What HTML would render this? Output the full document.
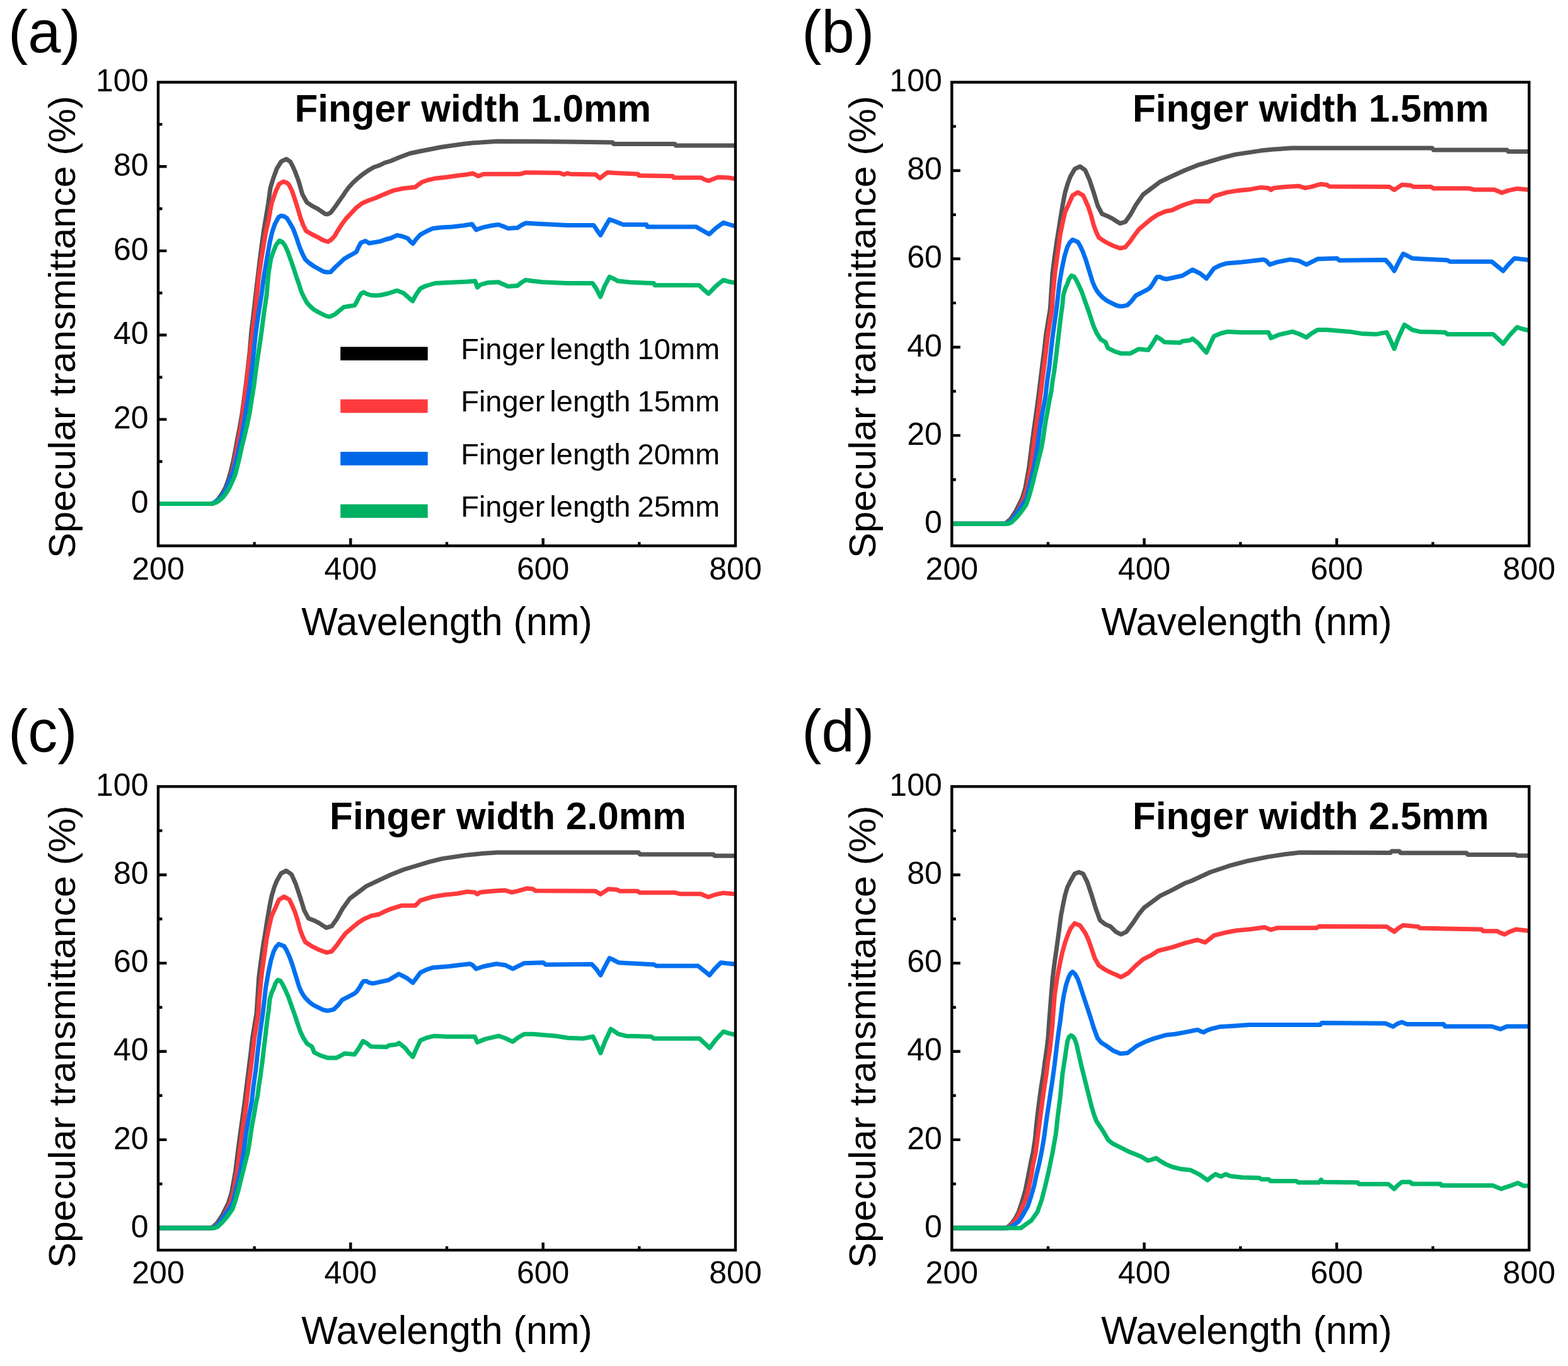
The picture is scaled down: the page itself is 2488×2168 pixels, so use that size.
<!DOCTYPE html><html><head><meta charset="utf-8"><title>Specular transmittance</title>
<style>html,body{margin:0;padding:0;background:#fff;}svg{display:block;}text{font-family:'Liberation Sans', Arial, Helvetica, sans-serif;fill:#000;}</style></head><body>
<svg xmlns="http://www.w3.org/2000/svg" width="2488" height="2168" viewBox="0 0 2488 2168">
<rect width="2488" height="2168" fill="#fff"/>
<g>
<path d="M556.3 866.3 V854.3 M861.7 866.3 V854.3 M403.7 866.3 V860.3 M709 866.3 V860.3 M1014.3 866.3 V860.3 M251 799.4 H264.5 M251 665.6 H264.5 M251 531.8 H264.5 M251 398.1 H264.5 M251 264.3 H264.5 M251 732.5 H257.5 M251 598.7 H257.5 M251 465 H257.5 M251 331.2 H257.5 M251 197.4 H257.5" stroke="#000" stroke-width="4.4" fill="none"/>
<clipPath id="clipa"><rect x="251" y="120.5" width="916" height="745.8"/></clipPath>
<g clip-path="url(#clipa)" fill="none" stroke-width="7" stroke-linejoin="round" stroke-linecap="butt">
<path d="M251 799.5 L336.9 799.5 L341.2 797 L346.5 792 L352.7 783 L357.7 774 L362.1 762 L366.2 748 L370 732 L373.2 716 L376.6 697 L380.6 677 L384.3 655 L387.4 632 L390.5 608 L393.6 582 L396.4 556 L398.8 526.7 L402.3 498 L405.6 468.7 L409 440 L412.5 410.6 L415.5 388 L418.3 367.1 L422 345 L425.6 323.5 L429 298.2 L434 282 L439.2 267.7 L446.4 256.1 L454.4 252.5 L460.9 256.8 L464.5 264 L468.2 272.1 L474 288 L479.8 308.4 L484 316 L487.1 321.4 L495.8 327.2 L504.5 331.6 L510 335.5 L516.1 339.6 L520 340 L524.8 337.4 L529 332 L533.5 325.8 L538.5 318.5 L543.7 311.3 L548.5 304 L553.8 296.8 L560 290 L566.9 283.7 L575 277 L584.3 270.6 L593 265.5 L603.2 262 L610 258.5 L620 255.5 L633 250 L650.2 243.5 L667 240 L683.7 236.8 L700 233.5 L717.2 231 L735 228.5 L750.7 226.8 L770 225.5 L789.2 224.3 L850 224.5 L900 225.1 L972.1 226 L973.8 228.5 L1070.9 228.5 L1072.5 231 L1170 231" stroke="#555555"/>
<path d="M251 799.5 L337.5 799.5 L341.9 797 L348.2 792 L354.3 784 L360.3 772 L364.8 760 L369.8 745 L373.6 725 L378.2 700 L382.9 675 L386.5 645.7 L389.6 620 L393.1 590 L397 560 L401.1 526.7 L404.7 498 L407.6 468.7 L410.5 440 L414.8 410.6 L418.5 388 L422.1 367.1 L426.1 350 L430.8 323.5 L437.7 303 L443 292 L449.7 288.2 L455 290 L458 292.4 L463 302 L468.2 317.1 L472.5 331 L476.9 346.1 L481 357 L485.6 366.4 L494.3 371.5 L504.5 376.6 L512 381 L520.4 383.8 L526 380 L530.6 375.1 L536 366 L542.2 356.3 L549 347 L556.7 338.8 L565 330 L574.1 322.9 L585 318 L595.9 314.2 L608 309 L620 304 L625.1 302.1 L640 299 L658.6 297.1 L664 293 L670.3 288.7 L680 285.5 L692.1 282.9 L710 281 L725.6 278.7 L740 277 L750.7 275.3 L755 277.5 L759 279.5 L763 278 L767.4 276.2 L826 276.2 L834.4 273.7 L888 274.5 L894.7 277 L900 275 L905.1 276.2 L945.3 277 L948.5 280 L952 282.9 L958 278 L963.7 273.7 L975.4 274.5 L1012.3 276.2 L1014 278.7 L1067.5 279.5 L1069.2 282 L1112.7 282 L1118 285 L1124.4 287.1 L1132 284 L1139.5 281.2 L1156.2 282 L1170 284.5" stroke="#ff3a3c"/>
<path d="M251 799.5 L336.3 799.5 L341.3 797 L347.3 793 L353 786 L358.5 777 L363.6 764 L369.6 750 L374.1 733 L378.5 715 L384 690 L390.6 650 L395.3 620 L400.5 580 L405.4 532 L409.8 500 L414.8 468.7 L418.5 440 L423.5 410.6 L428 385 L431.9 367.9 L436 356 L442.1 344.6 L446 342.4 L451 343.5 L455.1 346.1 L460 354 L465.3 363.5 L470 376 L475.5 392.5 L480 403 L484.2 411.4 L490 417 L498.7 423 L506 427 L513.2 431 L519 432 L524.8 431.7 L532 424 L539.3 417.2 L546 411 L553.8 406.3 L560 403 L565.4 399.8 L569 392 L572.7 385.3 L579.9 382.4 L585.8 386 L595 384.5 L603.2 383.1 L612 380 L620 378 L630.1 373.3 L638 375 L646.9 378.3 L651 383 L655.2 386.7 L660 380 L667 372.4 L677 367 L687.1 362.4 L700 361 L717.2 359.9 L735 358 L749 355.7 L752 360 L755.7 364.9 L760 363 L767.4 360.7 L780 358 L790.9 356.5 L798 359 L805.9 362.4 L821 361.6 L828 357 L834.4 354 L849.5 354.9 L900 357.4 L941.9 357.4 L947 365 L952.8 373.3 L959 362 L967.1 348.2 L975 351 L980.5 353.2 L988.8 356.5 L1025.7 356.5 L1027.3 359.9 L1104.3 359.9 L1115 366 L1125.3 371.6 L1136 362 L1147.9 353.2 L1156 356 L1170 359.9" stroke="#0070f0"/>
<path d="M251 799.5 L336.8 799.5 L342.8 797.5 L348.6 794 L353.7 789.3 L358.9 782.5 L363.7 774.6 L368.6 764 L373.5 752.5 L376.7 740 L380.3 724.9 L384 708 L388.1 691.7 L392.4 673 L396.1 654.9 L399.6 633 L403.4 608.9 L406 588 L408.8 568.4 L411.6 550 L414.3 531.6 L418.8 497 L423 468.7 L426.1 433.2 L430 410 L434.8 396.9 L438 389 L443.1 382 L448 384 L452.2 389.6 L456.5 399 L460.9 411.4 L465 423 L469.7 437.5 L474 450 L478.4 463.6 L481.9 471 L486.5 479.6 L492 486 L497.9 491.2 L504.4 495 L510.2 498 L516.1 501 L521.8 502.6 L526 501.5 L531.5 498.8 L538.6 493 L545.5 487.4 L554 486 L562.8 484.6 L566.5 478 L569.2 472.3 L573 466 L576.9 463.7 L582 466.5 L588.3 468.5 L596 469 L603.5 468.5 L615 466 L630.1 461.2 L640 465 L646.9 471 L654.7 477.9 L660 468 L667 457.8 L675 454 L682 452 L690.4 449.5 L710 448.5 L742.3 446.9 L754 446.1 L757.4 456.2 L762 452 L774.1 448.6 L790.9 447.8 L798 451 L805.9 454.5 L821 453.6 L828 448 L834.4 444.4 L845 446 L861.2 447.8 L900 449.5 L940.3 449.5 L946 458 L952.7 471.2 L959 455 L967.1 439.4 L975 443 L980.5 446.1 L1000 448 L1037.4 449.5 L1039 452.8 L1109.4 452.8 L1117 460 L1124.4 466.2 L1136 454 L1147.9 444.4 L1156 447 L1170 449.5" stroke="#00b86a"/>
</g>
<rect x="251" y="130.5" width="916" height="735.8" fill="none" stroke="#000" stroke-width="4.4"/>
<text x="251" y="919.5" font-size="50" text-anchor="middle">200</text>
<text x="556.3" y="919.5" font-size="50" text-anchor="middle">400</text>
<text x="861.7" y="919.5" font-size="50" text-anchor="middle">600</text>
<text x="1167" y="919.5" font-size="50" text-anchor="middle">800</text>
<text x="235.5" y="814" font-size="50" text-anchor="end">0</text>
<text x="235.5" y="680.2" font-size="50" text-anchor="end">20</text>
<text x="235.5" y="546.4" font-size="50" text-anchor="end">40</text>
<text x="235.5" y="412.7" font-size="50" text-anchor="end">60</text>
<text x="235.5" y="278.9" font-size="50" text-anchor="end">80</text>
<text x="235.5" y="145.1" font-size="50" text-anchor="end">100</text>
<text x="478.3" y="1007.6" font-size="62.5" textLength="461.5" lengthAdjust="spacingAndGlyphs">Wavelength (nm)</text>
<text transform="translate(118.6 886.1) rotate(-90)" font-size="59" textLength="734.1" lengthAdjust="spacingAndGlyphs">Specular transmittance (%)</text>
<text x="13" y="82.5" font-size="94">(a)</text>
<text x="467.4" y="193.3" font-size="62" font-weight="bold" textLength="565.7" lengthAdjust="spacingAndGlyphs">Finger width 1.0mm</text>
<rect x="540.2" y="550.5" width="138.5" height="21.5" fill="#000000"/>
<text y="569.9" font-size="47"><tspan x="731.2">Finger </tspan><tspan x="872.3">length </tspan><tspan x="1011.6">10mm</tspan></text>
<rect x="540.2" y="633.8" width="138.5" height="21.5" fill="#ff3b3d"/>
<text y="653.2" font-size="47"><tspan x="731.2">Finger </tspan><tspan x="872.3">length </tspan><tspan x="1011.6">15mm</tspan></text>
<rect x="540.2" y="717.1" width="138.5" height="21.5" fill="#0068e6"/>
<text y="736.5" font-size="47"><tspan x="731.2">Finger </tspan><tspan x="872.3">length </tspan><tspan x="1011.6">20mm</tspan></text>
<rect x="540.2" y="800.4" width="138.5" height="21.5" fill="#00b062"/>
<text y="819.8" font-size="47"><tspan x="731.2">Finger </tspan><tspan x="872.3">length </tspan><tspan x="1011.6">25mm</tspan></text>
</g>
<g>
<path d="M1815.6 866.3 V854.3 M2121 866.3 V854.3 M1663 866.3 V860.3 M1968.3 866.3 V860.3 M2273.6 866.3 V860.3 M1510.3 831.3 H1523.8 M1510.3 691.1 H1523.8 M1510.3 551 H1523.8 M1510.3 410.8 H1523.8 M1510.3 270.7 H1523.8 M1510.3 761.2 H1516.8 M1510.3 621 H1516.8 M1510.3 480.9 H1516.8 M1510.3 340.7 H1516.8 M1510.3 200.6 H1516.8" stroke="#000" stroke-width="4.4" fill="none"/>
<clipPath id="clipb"><rect x="1510.3" y="120.5" width="916" height="745.8"/></clipPath>
<g clip-path="url(#clipb)" fill="none" stroke-width="7" stroke-linejoin="round" stroke-linecap="butt">
<path d="M1510.3 831.3 L1593.5 831.3 L1597.7 829 L1604.1 823 L1611.4 812 L1621.7 791.4 L1626.8 775 L1632.9 741.2 L1636.5 712 L1640.6 680.9 L1644.1 656 L1647.6 630.7 L1650.6 606 L1653.8 580.4 L1657 555 L1659.8 530.2 L1666.4 490 L1670 434.2 L1673.3 408 L1676.7 383.9 L1680.3 362 L1683.4 342.1 L1686.8 322 L1690.1 305.2 L1694.3 291 L1698.5 280.1 L1705.2 268.4 L1713.6 264.2 L1721.9 270.1 L1728.6 285.2 L1735.3 305.2 L1742 327 L1748.7 339.6 L1757.1 342.9 L1765.5 347.1 L1771.3 351 L1777.2 354.6 L1785.6 352.1 L1793.9 340.4 L1802.3 325.3 L1814 308.6 L1827.4 298.6 L1840.8 288.5 L1860.9 279 L1880.1 270.2 L1900.2 262.2 L1920.3 256.2 L1940.4 250.1 L1960.5 245.1 L1980.6 242.1 L2000.7 239.1 L2020.7 237.1 L2048.9 235.1 L2272.6 235.1 L2274.6 238.1 L2391.2 238.1 L2393.2 240.5 L2429.3 240.5" stroke="#555555"/>
<path d="M1510.3 831.3 L1595.6 831.3 L1600.8 828.5 L1607.3 822 L1614.7 812 L1624.6 791.4 L1629.6 775 L1635.8 741.2 L1639.6 712 L1643.7 680.9 L1647.1 656 L1650.6 630.7 L1653.6 605 L1656.9 580.4 L1659.9 555 L1662.8 530.2 L1669.3 490 L1670.6 467.6 L1674.3 430 L1678.4 400.7 L1682.3 372 L1686.8 350.5 L1690.3 336 L1695.2 325.3 L1701.9 310.3 L1710.2 305.2 L1718.6 310.3 L1722.3 318 L1727 328.7 L1731.3 342 L1735.3 357.1 L1739.3 368 L1743.7 377.2 L1753.8 383.9 L1763.8 388.9 L1770.3 391.5 L1777.2 394 L1785.6 392.3 L1793.9 382.3 L1800.3 373 L1807.3 363.8 L1819 353.8 L1827.3 347 L1837.5 340.4 L1849.3 335.5 L1860 333.5 L1869.3 329 L1880.1 324.5 L1896.2 319.5 L1918.3 319.5 L1926.3 311.4 L1946.4 305.4 L1964.5 302.4 L1984.6 300.4 L2000.7 297.4 L2012.7 298.4 L2016.7 301.4 L2020.7 298.4 L2040.8 296.4 L2060.9 295.3 L2071 298.4 L2081 296.4 L2095.1 292.3 L2105.1 293.3 L2109.1 295.9 L2204.3 296.4 L2212.3 301.4 L2224.4 293.3 L2238.4 294.3 L2242.5 296.4 L2270.6 296.4 L2274.6 299 L2330.9 299 L2338.9 301 L2371.1 301 L2383.1 306 L2393.2 302.4 L2407.3 299.4 L2429.3 301.4" stroke="#ff3a3c"/>
<path d="M1510.3 831.3 L1595.7 831.3 L1602 828.5 L1608.7 821 L1617.3 809 L1628.6 791.4 L1634.3 768 L1640.7 741.2 L1645.8 711 L1649.7 680.9 L1654 655 L1658.7 630.7 L1661.6 605 L1665.1 580.4 L1667.8 555 L1670.7 530.2 L1676.4 490 L1678.7 470 L1680.9 450 L1685.1 425.8 L1689.3 406 L1693.5 392.3 L1697.3 385 L1701.9 380.6 L1710.2 383.9 L1714.3 391 L1718.6 400.7 L1722.8 412 L1727 425.8 L1733.7 447.5 L1737.3 456 L1740.8 462 L1744.7 467 L1750.4 472.7 L1755.6 476.7 L1760.5 479.4 L1771 484.5 L1776.9 486.1 L1781.1 486.1 L1788.7 484.4 L1795.3 478 L1802.3 469 L1810.3 465 L1822 458.8 L1825.3 456 L1829.8 449.4 L1834.1 442 L1836.3 439.5 L1840.8 439.5 L1844.3 441.5 L1850.9 443 L1860.3 441 L1876.3 437.5 L1892.2 428 L1904.2 434 L1909.3 438 L1914.3 442 L1920.3 434 L1926.3 425.9 L1936.3 421 L1946.4 417.9 L1970.5 415.9 L2004.7 411.9 L2009.3 414 L2014.7 419.9 L2026.8 415.9 L2046.9 411.9 L2060.9 413.9 L2073 419.9 L2091.1 410.9 L2121.2 409.9 L2125.2 413.3 L2198.3 412.5 L2205.3 420 L2212.3 430 L2219.3 416 L2226.4 402.8 L2233.3 406 L2240.5 409.9 L2256.5 410.9 L2296.7 412.9 L2300.7 415.3 L2367 415.3 L2375.3 422 L2385.1 430 L2393.3 420 L2403.2 409.9 L2411.3 411 L2429.3 412.9" stroke="#0070f0"/>
<path d="M1510.3 831.3 L1599.6 831.3 L1605 829 L1612.8 821.5 L1619.9 813 L1628.1 801.4 L1633 787 L1637.5 771.3 L1641.2 756 L1645 741.2 L1648.7 726 L1652.5 711 L1655.1 696 L1657.3 680.9 L1659.6 666 L1662.5 650.8 L1665.2 635 L1668.2 620.6 L1670.1 605 L1672.5 590.5 L1674.5 575 L1676.4 560.4 L1678.1 545 L1680 530.2 L1681.7 515 L1683.5 500.1 L1685.7 484.4 L1687.3 468 L1690.3 458 L1693.5 450.9 L1696.3 443 L1700.2 437.5 L1704.3 439 L1708.5 445.9 L1712.3 454 L1716.9 464.3 L1721.3 477 L1727 492.8 L1731.3 506 L1735.3 517.9 L1740 528.3 L1746.3 538.4 L1754.1 543.1 L1758 552.5 L1767.3 557.2 L1779.1 561.1 L1793.1 561.1 L1799.3 558 L1806.4 554.1 L1822 555.6 L1828.3 546.3 L1835.3 534.5 L1841.3 538 L1847.8 543.1 L1872.8 543.9 L1876.1 541.5 L1888.4 540 L1892.2 537.5 L1902.2 545.5 L1907.3 552 L1914.3 559.6 L1920.3 546 L1926.3 533.4 L1937.3 529 L1948.4 526.4 L1968.5 527.4 L2012.7 527.4 L2016.7 536.5 L2028.8 531.4 L2050.9 526.4 L2061.3 530 L2073 535.5 L2081.3 529 L2091.1 523.4 L2105.1 523.4 L2141.3 526.4 L2160 529.4 L2184.2 530.4 L2200.3 527.4 L2205.3 538 L2212.3 553.5 L2219.3 535 L2228.4 515.4 L2234.3 519 L2240.5 523.4 L2252.5 526.4 L2292.7 527.4 L2296.7 530.4 L2369.1 530.4 L2376.3 537 L2385.1 545.5 L2395.3 532 L2407.3 519.4 L2415.3 522 L2429.3 525.4" stroke="#00b86a"/>
</g>
<rect x="1510.3" y="130.5" width="916" height="735.8" fill="none" stroke="#000" stroke-width="4.4"/>
<text x="1510.3" y="919.5" font-size="50" text-anchor="middle">200</text>
<text x="1815.6" y="919.5" font-size="50" text-anchor="middle">400</text>
<text x="2121" y="919.5" font-size="50" text-anchor="middle">600</text>
<text x="2426.3" y="919.5" font-size="50" text-anchor="middle">800</text>
<text x="1494.8" y="845.9" font-size="50" text-anchor="end">0</text>
<text x="1494.8" y="705.7" font-size="50" text-anchor="end">20</text>
<text x="1494.8" y="565.6" font-size="50" text-anchor="end">40</text>
<text x="1494.8" y="425.4" font-size="50" text-anchor="end">60</text>
<text x="1494.8" y="285.3" font-size="50" text-anchor="end">80</text>
<text x="1494.8" y="145.1" font-size="50" text-anchor="end">100</text>
<text x="1747.2" y="1007.6" font-size="62.5" textLength="461.5" lengthAdjust="spacingAndGlyphs">Wavelength (nm)</text>
<text transform="translate(1388.6 886.1) rotate(-90)" font-size="59" textLength="734.1" lengthAdjust="spacingAndGlyphs">Specular transmittance (%)</text>
<text x="1272.3" y="82.5" font-size="94">(b)</text>
<text x="1797" y="192.7" font-size="62" font-weight="bold" textLength="565.7" lengthAdjust="spacingAndGlyphs">Finger width 1.5mm</text>
</g>
<g>
<path d="M556.3 1984.1 V1972.1 M861.7 1984.1 V1972.1 M403.7 1984.1 V1978.1 M709 1984.1 V1978.1 M1014.3 1984.1 V1978.1 M251 1949.1 H264.5 M251 1808.9 H264.5 M251 1668.8 H264.5 M251 1528.6 H264.5 M251 1388.5 H264.5 M251 1879 H257.5 M251 1738.8 H257.5 M251 1598.7 H257.5 M251 1458.5 H257.5 M251 1318.4 H257.5" stroke="#000" stroke-width="4.4" fill="none"/>
<clipPath id="clipc"><rect x="251" y="1238.3" width="916" height="745.8"/></clipPath>
<g clip-path="url(#clipc)" fill="none" stroke-width="7" stroke-linejoin="round" stroke-linecap="butt">
<path d="M251 1949.1 L334.2 1949.1 L338.4 1946.8 L344.8 1940.8 L352.1 1929.8 L362.4 1909.2 L367.5 1892.8 L373.6 1859 L377.2 1829.8 L381.3 1798.7 L384.8 1773.8 L388.3 1748.5 L391.3 1723.8 L394.5 1698.2 L397.7 1672.8 L400.5 1648 L407.1 1607.8 L410.7 1552 L414 1525.8 L417.4 1501.7 L421 1479.8 L424.1 1459.9 L427.5 1439.8 L430.8 1423 L435 1408.8 L439.2 1397.9 L445.9 1386.2 L454.3 1382 L462.6 1387.9 L469.3 1403 L476 1423 L482.7 1444.8 L489.4 1457.4 L497.8 1460.7 L506.2 1464.9 L512 1468.8 L517.9 1472.4 L526.3 1469.9 L534.6 1458.2 L543 1443.1 L554.7 1426.4 L568.1 1416.4 L581.5 1406.3 L601.6 1396.8 L620.8 1388 L640.9 1380 L661 1374 L681.1 1367.9 L701.2 1362.9 L721.3 1359.9 L741.4 1356.9 L761.4 1354.9 L789.6 1352.9 L1013.3 1352.9 L1015.3 1355.9 L1131.9 1355.9 L1133.9 1358.3 L1170 1358.3" stroke="#555555"/>
<path d="M251 1949.1 L336.3 1949.1 L341.5 1946.3 L348 1939.8 L355.4 1929.8 L365.3 1909.2 L370.3 1892.8 L376.5 1859 L380.3 1829.8 L384.4 1798.7 L387.8 1773.8 L391.3 1748.5 L394.3 1722.8 L397.6 1698.2 L400.6 1672.8 L403.5 1648 L410 1607.8 L411.3 1585.4 L415 1547.8 L419.1 1518.5 L423 1489.8 L427.5 1468.3 L431 1453.8 L435.9 1443.1 L442.6 1428.1 L450.9 1423 L459.3 1428.1 L463 1435.8 L467.7 1446.5 L472 1459.8 L476 1474.9 L480 1485.8 L484.4 1495 L494.5 1501.7 L504.5 1506.7 L511 1509.3 L517.9 1511.8 L526.3 1510.1 L534.6 1500.1 L541 1490.8 L548 1481.6 L559.7 1471.6 L568 1464.8 L578.2 1458.2 L590 1453.3 L600.7 1451.3 L610 1446.8 L620.8 1442.3 L636.9 1437.3 L659 1437.3 L667 1429.2 L687.1 1423.2 L705.2 1420.2 L725.3 1418.2 L741.4 1415.2 L753.4 1416.2 L757.4 1419.2 L761.4 1416.2 L781.5 1414.2 L801.6 1413.1 L811.7 1416.2 L821.7 1414.2 L835.8 1410.1 L845.8 1411.1 L849.8 1413.7 L945 1414.2 L953 1419.2 L965.1 1411.1 L979.1 1412.1 L983.2 1414.2 L1011.3 1414.2 L1015.3 1416.8 L1071.6 1416.8 L1079.6 1418.8 L1111.8 1418.8 L1123.8 1423.8 L1133.9 1420.2 L1148 1417.2 L1170 1419.2" stroke="#ff3a3c"/>
<path d="M251 1949.1 L336.4 1949.1 L342.7 1946.3 L349.4 1938.8 L358 1926.8 L369.3 1909.2 L375 1885.8 L381.4 1859 L386.5 1828.8 L390.4 1798.7 L394.7 1772.8 L399.4 1748.5 L402.3 1722.8 L405.8 1698.2 L408.5 1672.8 L411.4 1648 L417.1 1607.8 L419.4 1587.8 L421.6 1567.8 L425.8 1543.6 L430 1523.8 L434.2 1510.1 L438 1502.8 L442.6 1498.4 L450.9 1501.7 L455 1508.8 L459.3 1518.5 L463.5 1529.8 L467.7 1543.6 L474.4 1565.3 L478 1573.8 L481.5 1579.8 L485.4 1584.8 L491.1 1590.5 L496.3 1594.5 L501.2 1597.2 L511.7 1602.3 L517.6 1603.9 L521.8 1603.9 L529.4 1602.2 L536 1595.8 L543 1586.8 L551 1582.8 L562.7 1576.6 L566 1573.8 L570.5 1567.2 L574.8 1559.8 L577 1557.3 L581.5 1557.3 L585 1559.3 L591.6 1560.8 L601 1558.8 L617 1555.3 L632.9 1545.8 L644.9 1551.8 L650 1555.8 L655 1559.8 L661 1551.8 L667 1543.7 L677 1538.8 L687.1 1535.7 L711.2 1533.7 L745.4 1529.7 L750 1531.8 L755.4 1537.7 L767.5 1533.7 L787.6 1529.7 L801.6 1531.7 L813.7 1537.7 L831.8 1528.7 L861.9 1527.7 L865.9 1531.1 L939 1530.3 L946 1537.8 L953 1547.8 L960 1533.8 L967.1 1520.6 L974 1523.8 L981.2 1527.7 L997.2 1528.7 L1037.4 1530.7 L1041.4 1533.1 L1107.7 1533.1 L1116 1539.8 L1125.8 1547.8 L1134 1537.8 L1143.9 1527.7 L1152 1528.8 L1170 1530.7" stroke="#0070f0"/>
<path d="M251 1949.1 L340.3 1949.1 L345.7 1946.8 L353.4 1939.3 L360.6 1930.8 L368.8 1919.2 L373.7 1904.8 L378.2 1889.1 L381.9 1873.8 L385.7 1859 L389.4 1843.8 L393.2 1828.8 L395.8 1813.8 L398 1798.7 L400.3 1783.8 L403.2 1768.6 L405.9 1752.8 L408.9 1738.4 L410.8 1722.8 L413.2 1708.3 L415.2 1692.8 L417.1 1678.2 L418.8 1662.8 L420.7 1648 L422.4 1632.8 L424.2 1617.9 L426.4 1602.2 L428 1585.8 L431 1575.8 L434.2 1568.7 L437 1560.8 L440.9 1555.3 L445 1556.8 L449.2 1563.7 L453 1571.8 L457.6 1582.1 L462 1594.8 L467.7 1610.6 L472 1623.8 L476 1635.7 L480.7 1646.1 L487 1656.2 L494.8 1660.9 L498.7 1670.3 L508 1675 L519.8 1678.9 L533.8 1678.9 L540 1675.8 L547.1 1671.9 L562.7 1673.4 L569 1664.1 L576 1652.3 L582 1655.8 L588.5 1660.9 L613.5 1661.7 L616.8 1659.3 L629.1 1657.8 L632.9 1655.3 L642.9 1663.3 L648 1669.8 L655 1677.4 L661 1663.8 L667 1651.2 L678 1646.8 L689.1 1644.2 L709.2 1645.2 L753.4 1645.2 L757.4 1654.3 L769.5 1649.2 L791.6 1644.2 L802 1647.8 L813.7 1653.3 L822 1646.8 L831.8 1641.2 L845.8 1641.2 L882 1644.2 L900.7 1647.2 L924.9 1648.2 L941 1645.2 L946 1655.8 L953 1671.3 L960 1652.8 L969.1 1633.2 L975 1636.8 L981.2 1641.2 L993.2 1644.2 L1033.4 1645.2 L1037.4 1648.2 L1109.8 1648.2 L1117 1654.8 L1125.8 1663.3 L1136 1649.8 L1148 1637.2 L1156 1639.8 L1170 1643.2" stroke="#00b86a"/>
</g>
<rect x="251" y="1248.3" width="916" height="735.8" fill="none" stroke="#000" stroke-width="4.4"/>
<text x="251" y="2037.3" font-size="50" text-anchor="middle">200</text>
<text x="556.3" y="2037.3" font-size="50" text-anchor="middle">400</text>
<text x="861.7" y="2037.3" font-size="50" text-anchor="middle">600</text>
<text x="1167" y="2037.3" font-size="50" text-anchor="middle">800</text>
<text x="235.5" y="1963.7" font-size="50" text-anchor="end">0</text>
<text x="235.5" y="1823.5" font-size="50" text-anchor="end">20</text>
<text x="235.5" y="1683.4" font-size="50" text-anchor="end">40</text>
<text x="235.5" y="1543.2" font-size="50" text-anchor="end">60</text>
<text x="235.5" y="1403.1" font-size="50" text-anchor="end">80</text>
<text x="235.5" y="1262.9" font-size="50" text-anchor="end">100</text>
<text x="478.3" y="2132.7" font-size="62.5" textLength="461.5" lengthAdjust="spacingAndGlyphs">Wavelength (nm)</text>
<text transform="translate(118.6 2012.6) rotate(-90)" font-size="59" textLength="734.1" lengthAdjust="spacingAndGlyphs">Specular transmittance (%)</text>
<text x="13" y="1193.4" font-size="94">(c)</text>
<text x="523.1" y="1315.7" font-size="62" font-weight="bold" textLength="565.7" lengthAdjust="spacingAndGlyphs">Finger width 2.0mm</text>
</g>
<g>
<path d="M1815.6 1984.1 V1972.1 M2121 1984.1 V1972.1 M1663 1984.1 V1978.1 M1968.3 1984.1 V1978.1 M2273.6 1984.1 V1978.1 M1510.3 1949.1 H1523.8 M1510.3 1808.9 H1523.8 M1510.3 1668.8 H1523.8 M1510.3 1528.6 H1523.8 M1510.3 1388.5 H1523.8 M1510.3 1879 H1516.8 M1510.3 1738.8 H1516.8 M1510.3 1598.7 H1516.8 M1510.3 1458.5 H1516.8 M1510.3 1318.4 H1516.8" stroke="#000" stroke-width="4.4" fill="none"/>
<clipPath id="clipd"><rect x="1510.3" y="1238.3" width="916" height="745.8"/></clipPath>
<g clip-path="url(#clipd)" fill="none" stroke-width="7" stroke-linejoin="round" stroke-linecap="butt">
<path d="M1510.3 1949.1 L1595.6 1949.1 L1599.8 1946.8 L1605.3 1941.8 L1611 1933.8 L1616.2 1923.8 L1621.6 1907.8 L1627.1 1888.8 L1631.5 1866.8 L1635.5 1845.8 L1639.2 1828.8 L1642.4 1807.8 L1644.9 1781.3 L1647.3 1760.8 L1649.6 1743.3 L1652.3 1723.8 L1655.3 1705.4 L1657.8 1685.8 L1660.6 1667.4 L1663 1647.8 L1664.8 1620.8 L1670 1554.2 L1673.3 1527.8 L1676.7 1503.9 L1680.3 1477.8 L1683.4 1453.7 L1686.8 1435.8 L1690.1 1420.2 L1693.8 1407.8 L1698.5 1398.5 L1705.2 1386.7 L1711.9 1384.2 L1718.6 1386.7 L1725.3 1400.1 L1732 1420.2 L1738.7 1442 L1745.4 1460.4 L1753.8 1467.1 L1762.1 1470.5 L1770.5 1478.8 L1778.9 1483 L1787.2 1478.8 L1797.3 1465.4 L1807.3 1450.4 L1815.7 1440.3 L1827.4 1431.9 L1840.8 1421.9 L1860.3 1412.3 L1880 1401.8 L1890.1 1398.3 L1920.3 1384.3 L1950.4 1374.2 L1980.6 1366.2 L2010.7 1360.1 L2036.8 1356.1 L2062.9 1353.1 L2206.3 1353.4 L2208.3 1351.1 L2220.4 1351.1 L2222.4 1353.7 L2326.9 1353.7 L2328.9 1356.5 L2405.2 1356.5 L2407.2 1358.1 L2429.3 1358.1" stroke="#555555"/>
<path d="M1510.3 1949.1 L1596.6 1949.1 L1601.8 1946.8 L1608.3 1940.8 L1615.1 1931.1 L1620.4 1919.8 L1627.1 1904.6 L1632.2 1885.8 L1636.3 1866.6 L1639.3 1847.8 L1643.4 1828.7 L1646.3 1805.8 L1649.6 1781.3 L1652.1 1761.8 L1654.6 1743.3 L1657.3 1723.8 L1660.2 1705.4 L1662.6 1685.8 L1665.6 1667.4 L1667.8 1647.8 L1669.8 1627.8 L1673.4 1579.3 L1677.3 1552.8 L1681.8 1529 L1685.8 1510.8 L1690.1 1495.6 L1694.3 1483.8 L1698.5 1473.8 L1705.2 1465.4 L1713.6 1468.8 L1721.9 1480.5 L1726.3 1489.8 L1730.3 1500.6 L1737 1520.7 L1743.7 1532.4 L1753.8 1539.1 L1763.8 1544.1 L1771.3 1547.3 L1778.9 1550.8 L1790.6 1544.1 L1802.3 1532.4 L1814 1522.3 L1827.4 1515.7 L1837.5 1509 L1860.3 1503.3 L1880.1 1496.8 L1900.2 1491.7 L1906.3 1493.8 L1912.3 1495.7 L1926.3 1484.7 L1946.4 1479.7 L1962.5 1476.7 L1984.6 1474.7 L2006.7 1471.7 L2016.7 1475.7 L2026.8 1472.7 L2089.1 1472.7 L2093.1 1470.2 L2200.3 1470.7 L2206.3 1474.8 L2212.3 1478.7 L2219.3 1472.8 L2226.4 1468.6 L2236.4 1469.6 L2250.5 1470.7 L2252.5 1473.1 L2351 1475.1 L2353 1477.7 L2375.1 1477.7 L2380.3 1480.3 L2387.1 1483.1 L2395.3 1478.8 L2405.2 1475.1 L2429.3 1477.7" stroke="#ff3a3c"/>
<path d="M1510.3 1949.1 L1598.6 1949.1 L1603.7 1947.3 L1609.1 1943.8 L1616.3 1938.7 L1623.3 1927.8 L1631 1914.1 L1636.3 1897.8 L1640.9 1881.8 L1644.3 1865.8 L1648.7 1847.7 L1652.6 1828.8 L1656 1809.7 L1658.6 1790.8 L1661.2 1771.8 L1664.2 1752.8 L1667 1733.8 L1669.9 1714.8 L1672.5 1695.9 L1674.9 1676.8 L1677.1 1657.9 L1679.6 1638.8 L1682.4 1620 L1685.3 1596 L1688.3 1577.8 L1691.8 1562.5 L1695.3 1551.8 L1698.3 1545.8 L1701.9 1542.4 L1705.8 1545.8 L1710.3 1554.2 L1714.3 1565.8 L1718.6 1579.3 L1722.8 1591.8 L1727 1604.4 L1731.3 1617.8 L1735.3 1630.8 L1741.5 1647.8 L1747.3 1654.8 L1754.8 1659.3 L1766.2 1667.4 L1777.6 1672.2 L1789 1671.2 L1796.3 1665.8 L1804.1 1659.8 L1816.3 1653.8 L1830.7 1648.4 L1849.6 1642.8 L1864.3 1641.3 L1880.1 1638.4 L1900.2 1634.4 L1905.3 1636.8 L1910.2 1638.4 L1914.3 1635.8 L1920.3 1633.4 L1936.4 1629.4 L1954.4 1628.4 L1982.6 1626.4 L2095.1 1626.4 L2097.1 1623.4 L2198.3 1624.3 L2204.3 1626.8 L2210.3 1629.4 L2217.3 1624.8 L2224.4 1622.3 L2232.4 1625.4 L2290.7 1625.4 L2292.7 1629 L2367 1629 L2374.3 1631.3 L2381.1 1633.4 L2391.2 1629 L2429.3 1629" stroke="#0070f0"/>
<path d="M1510.3 1949.1 L1619.8 1949.1 L1626.1 1944.4 L1636.7 1936.8 L1646.1 1923.5 L1652.8 1904.6 L1657.7 1885.6 L1663.6 1860.9 L1670.2 1828.7 L1675.3 1800.2 L1678.4 1771.8 L1682.1 1743.3 L1685.8 1705.4 L1690.1 1676.9 L1693.8 1652.3 L1696.3 1645.8 L1699.5 1643.3 L1702.3 1644.8 L1705.3 1649.3 L1708.3 1657.8 L1711.2 1671.2 L1716.9 1695.9 L1724.5 1726.2 L1732.1 1756.5 L1735.8 1768.8 L1739.7 1779.3 L1745.3 1787.8 L1751 1796.4 L1758.6 1809.6 L1765.3 1814.8 L1773.8 1819.1 L1783.3 1823.8 L1792.8 1828.6 L1802.3 1832.3 L1811.7 1836.2 L1821.2 1841.9 L1826.3 1840.8 L1834.5 1838.1 L1841.3 1842.8 L1849.6 1847.6 L1860 1852 L1874.6 1855.6 L1889.2 1857.1 L1903.8 1864.4 L1909.3 1868.3 L1916.1 1873.1 L1922.3 1867.8 L1928.5 1863.6 L1937.3 1867.3 L1944.6 1863.6 L1951.9 1866.6 L1970.8 1868.8 L1998.5 1869.5 L2001.5 1871.7 L2013.1 1871.7 L2016 1874.6 L2056.9 1874.6 L2059.8 1876.8 L2093.3 1876.8 L2096.2 1872.4 L2099.2 1876 L2154.6 1876.8 L2156 1879.3 L2202.7 1879.3 L2207.3 1882.8 L2212.2 1887 L2218.3 1880.8 L2224.6 1876 L2237.7 1876 L2240.6 1879 L2285.8 1879 L2287.3 1881.6 L2369 1881.6 L2375.3 1884.3 L2382.1 1887 L2389.3 1884.3 L2396.7 1881.9 L2408.3 1877.5 L2417.1 1881.9 L2429.3 1881.9" stroke="#00b86a"/>
</g>
<rect x="1510.3" y="1248.3" width="916" height="735.8" fill="none" stroke="#000" stroke-width="4.4"/>
<text x="1510.3" y="2037.3" font-size="50" text-anchor="middle">200</text>
<text x="1815.6" y="2037.3" font-size="50" text-anchor="middle">400</text>
<text x="2121" y="2037.3" font-size="50" text-anchor="middle">600</text>
<text x="2426.3" y="2037.3" font-size="50" text-anchor="middle">800</text>
<text x="1494.8" y="1963.7" font-size="50" text-anchor="end">0</text>
<text x="1494.8" y="1823.5" font-size="50" text-anchor="end">20</text>
<text x="1494.8" y="1683.4" font-size="50" text-anchor="end">40</text>
<text x="1494.8" y="1543.2" font-size="50" text-anchor="end">60</text>
<text x="1494.8" y="1403.1" font-size="50" text-anchor="end">80</text>
<text x="1494.8" y="1262.9" font-size="50" text-anchor="end">100</text>
<text x="1747.2" y="2132.7" font-size="62.5" textLength="461.5" lengthAdjust="spacingAndGlyphs">Wavelength (nm)</text>
<text transform="translate(1388.6 2012.6) rotate(-90)" font-size="59" textLength="734.1" lengthAdjust="spacingAndGlyphs">Specular transmittance (%)</text>
<text x="1272.3" y="1193.4" font-size="94">(d)</text>
<text x="1797" y="1315.7" font-size="62" font-weight="bold" textLength="565.7" lengthAdjust="spacingAndGlyphs">Finger width 2.5mm</text>
</g>
</svg></body></html>
